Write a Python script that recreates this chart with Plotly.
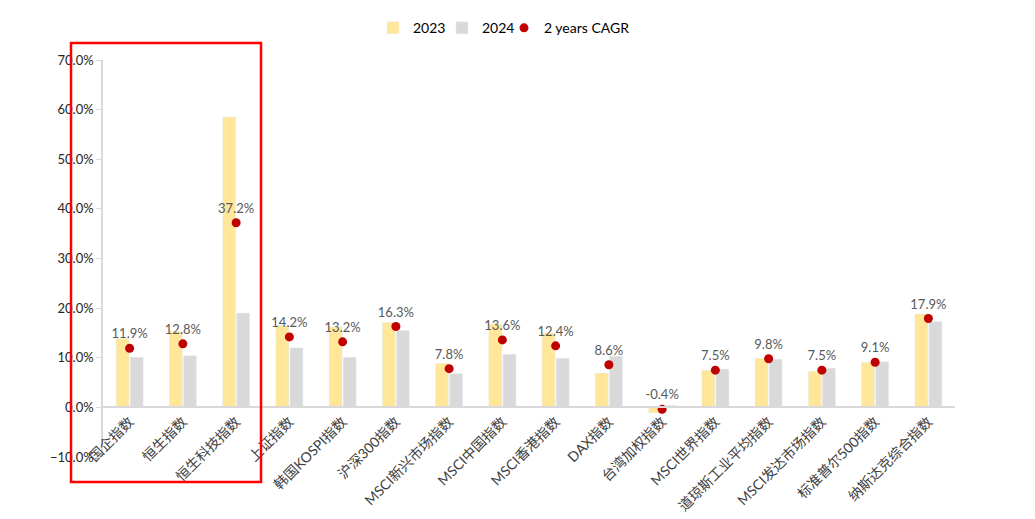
import plotly.graph_objects as go

categories = ["国企指数", "恒生指数", "恒生科技指数", "上证指数", "韩国KOSPI指数", "沪深300指数",
              "MSCI新兴市场指数", "MSCI中国指数", "MSCI香港指数", "DAX指数", "台湾加权指数",
              "MSCI世界指数", "道琼斯工业平均指数", "MSCI发达市场指数", "标准普尔500指数", "纳斯达克综合指数"]
y2023 = [0.139, 0.153, 0.585, 0.165, 0.162, 0.171, 0.089, 0.168, 0.150, 0.069, -0.011,
         0.075, 0.099, 0.073, 0.091, 0.188]
y2024 = [0.101, 0.104, 0.190, 0.120, 0.101, 0.155, 0.068, 0.107, 0.099, 0.103, 0.004,
         0.077, 0.097, 0.079, 0.092, 0.173]
cagr = [0.119, 0.128, 0.372, 0.142, 0.132, 0.163, 0.078, 0.136, 0.124, 0.086, -0.004,
        0.075, 0.098, 0.075, 0.091, 0.179]
cagr_labels = [f"{v*100:.1f}%" for v in cagr]

FONT = "Lato, Noto Sans CJK SC, sans-serif"

fig = go.Figure()
fig.add_trace(go.Bar(x=categories, y=y2023, name="2023", marker_color="#FFE699",
                     legend="legend", showlegend=True))
fig.add_trace(go.Bar(x=categories, y=y2024, name="2024", marker_color="#D9D9D9",
                     legend="legend2", showlegend=True))
fig.add_trace(go.Scatter(x=categories, y=cagr, name="2 years CAGR", mode="markers+text",
                         marker=dict(color="#C00000", size=9), legend="legend3", showlegend=True,
                         text=cagr_labels, textposition="top center",
                         textfont=dict(size=13, color="#595959", family=FONT)))

W, H = 1027, 511
L, T, PW, PH = 95, 52, 852, 397


def leg(px):
    return dict(orientation="h", x=(px - 103) / PW, xanchor="left", y=1.08, yanchor="middle",
                font=dict(size=14, color="#000000", family=FONT), itemwidth=30,
                bgcolor="rgba(0,0,0,0)", visible=True)


fig.update_layout(
    width=W, height=H, showlegend=True,
    margin=dict(l=L, r=W - L - PW, t=T, b=H - T - PH, autoexpand=False),
    plot_bgcolor="white", paper_bgcolor="white",
    barmode="group", bargap=0.47, bargroupgap=0.08,
    font=dict(family=FONT, color="#404040"),
    legend=leg(373), legend2=leg(442), legend3=leg(504),
    xaxis=dict(anchor="free", position=0.125, showline=True, linecolor="#D9D9D9", linewidth=1.5,
               range=[-0.5, len(categories) - 0.5],
               tickangle=-45, tickfont=dict(size=14, color="#404040", family=FONT),
               showgrid=False, ticks=""),
    yaxis=dict(range=[-0.1, 0.7], dtick=0.1, tickformat=".1%", showgrid=False, zeroline=False,
               showline=True, linecolor="#D9D9D9", linewidth=1.5, ticks="outside",
               ticklen=5, tickcolor="#D9D9D9", tickfont=dict(size=13, color="#262626", family=FONT)),
    shapes=[dict(type="rect", xref="paper", yref="paper",
                 x0=(71 - 103) / PW, x1=(261 - 103) / PW,
                 y0=(457 - 482) / PH, y1=(457 - 43) / PH,
                 line=dict(color="#FF0000", width=2.5))],
)

fig.write_html("out.html")
